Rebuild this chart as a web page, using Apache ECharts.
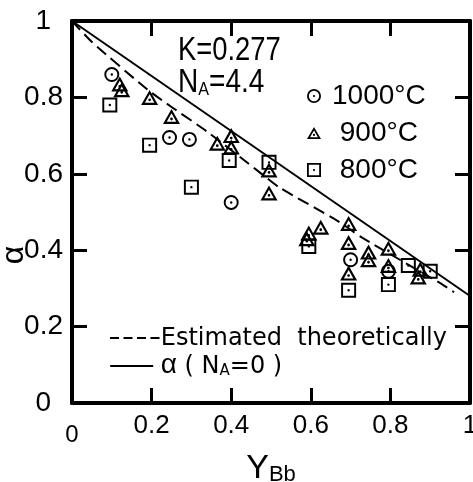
<!DOCTYPE html>
<html>
<head>
<meta charset="utf-8">
<script src="https://cdn.jsdelivr.net/npm/echarts@6/dist/echarts.min.js"></script>
<style>html,body{margin:0;background:#fff}#chart{width:473px;height:482px}</style>
</head>
<body>
<div id="chart"></div>
<script>
// measured values (x = Y_Bb, y = alpha)
var c1000 = [[0.10,0.86],[0.245,0.695],[0.295,0.69],[0.40,0.525],[0.70,0.375],[0.795,0.345]];
var c900 = [[0.12,0.835],[0.125,0.82],[0.195,0.80],[0.25,0.75],[0.365,0.68],[0.40,0.70],[0.40,0.67],
            [0.495,0.61],[0.495,0.55],[0.595,0.445],[0.59,0.43],[0.625,0.46],[0.695,0.47],[0.695,0.42],
            [0.695,0.34],[0.745,0.395],[0.745,0.375],[0.795,0.405],[0.795,0.36],[0.875,0.35],[0.87,0.33]];
var c800 = [[0.095,0.78],[0.195,0.675],[0.30,0.565],[0.395,0.635],[0.495,0.63],[0.595,0.41],
            [0.695,0.295],[0.795,0.31],[0.845,0.36],[0.90,0.345]];
var estimated = [[0,1],[0.05,0.945],[0.19,0.82],[0.25,0.775],[0.34,0.71],[0.47,0.605],[0.52,0.565],
                 [0.67,0.475],[0.73,0.432],[0.92,0.317],[0.96,0.29]];
var noAcceptor = [[0,1],[1,0.28]];
var seriesNames = ['1000°C', '900°C', '800°C'];
var lineNames = ['Estimated  theoretically', 'α (NA=0)'];

var FONT = '"Liberation Sans", Arial, sans-serif';
var WIDE = '"DejaVu Sans", sans-serif';

var circlePath = 'path://M0,-10A10,10 0 1,1 0,10A10,10 0 1,1 0,-10Z' +
    'M0,-7.4A7.4,7.4 0 1,0 0,7.4A7.4,7.4 0 1,0 0,-7.4Z' +
    'M0,-1.6A1.6,1.6 0 1,1 0,1.6A1.6,1.6 0 1,1 0,-1.6Z';
var trianglePath = 'path://M0,-9L10,8L-10,8Z' +
    'M0,-4.1L-5.6,5.5L5.6,5.5Z' +
    'M0,0.7A1.6,1.6 0 1,1 0,3.9A1.6,1.6 0 1,1 0,0.7Z';
var squarePath = 'path://M-10,-10L10,-10L10,10L-10,10Z' +
    'M-7.4,-7.4L-7.4,7.4L7.4,7.4L7.4,-7.4Z' +
    'M0,-1.6A1.6,1.6 0 1,1 0,1.6A1.6,1.6 0 1,1 0,-1.6Z';
var dashIcon = 'path://M0,0h9v2h-9zM13.5,0h9v2h-9zM27,0h9v2h-9zM40.5,0h9v2h-9z';
var solidIcon = 'path://M0,0h43v2h-43zM49,0h0.1v2h-0.1z';

var PLOT = { left: 72, right: 3, top: 21, bottom: 79 };
var TICK = 15;

function frameAxis(pos, show) {
    return {
        type: 'value', min: 0, max: 1, interval: 0.2, position: pos,
        axisLine: { show: true, onZero: false, lineStyle: { color: '#000', width: 4 } },
        axisTick: { show: true, inside: true, length: TICK, lineStyle: { color: '#000', width: 3 } },
        splitLine: { show: false },
        axisLabel: { show: show, color: '#000', fontFamily: FONT }
    };
}

// thin strips along each edge of the frame: their split lines act as the inward ticks
function tickAxis(gridIndex) {
    return {
        type: 'value', gridIndex: gridIndex, min: 0, max: 1, interval: 0.2,
        axisLine: { show: false }, axisTick: { show: false }, axisLabel: { show: false },
        splitLine: { show: true, lineStyle: { color: '#000', width: 3 } }
    };
}
function hiddenAxis(gridIndex) {
    return { type: 'value', gridIndex: gridIndex, min: 0, max: 1, show: false, splitLine: { show: false } };
}

var xBottom = frameAxis('bottom', true);
xBottom.axisLabel.fontSize = 26;
xBottom.axisLabel.margin = 10;
xBottom.axisLabel.formatter = function (v) {
    if (v === 0) return '{z|0}';
    return v === 1 ? '1' : v.toFixed(1);
};
xBottom.axisLabel.rich = { z: { fontSize: 24, fontFamily: FONT, color: '#000', padding: [10, 0, 0, 0] } };
xBottom.name = '{y|Y}{b|Bb}';
xBottom.nameLocation = 'middle';
xBottom.nameGap = 44;
xBottom.nameTextStyle = { rich: {
    y: { fontSize: 34, fontFamily: FONT, color: '#000', verticalAlign: 'bottom' },
    b: { fontSize: 22, fontFamily: FONT, color: '#000', verticalAlign: 'bottom' }
} };

var yLeft = frameAxis('left', true);
yLeft.axisLabel.fontSize = 28;
yLeft.axisLabel.margin = 9;
yLeft.axisLabel.formatter = function (v) {
    if (v === 0 || v === 1) return '{e|' + v + '}';
    return v.toFixed(1);
};
yLeft.axisLabel.rich = { e: { fontSize: 28, fontFamily: FONT, color: '#000', padding: [0, 12, 0, 0] } };

var option = {
    backgroundColor: '#fff',
    animation: false,
    grid: [
        { left: PLOT.left, right: PLOT.right, top: PLOT.top, bottom: PLOT.bottom, outerBoundsMode: 'none' },
        { left: PLOT.left, right: PLOT.right, bottom: PLOT.bottom, height: TICK, outerBoundsMode: 'none' },
        { left: PLOT.left, right: PLOT.right, top: PLOT.top, height: TICK, outerBoundsMode: 'none' },
        { left: PLOT.left, width: TICK, top: PLOT.top, bottom: PLOT.bottom, outerBoundsMode: 'none' },
        { right: PLOT.right, width: TICK, top: PLOT.top, bottom: PLOT.bottom, outerBoundsMode: 'none' }
    ],
    xAxis: [xBottom, frameAxis('top', false), tickAxis(1), tickAxis(2), hiddenAxis(3), hiddenAxis(4)],
    yAxis: [yLeft, frameAxis('right', false), hiddenAxis(1), hiddenAxis(2), tickAxis(3), tickAxis(4)],
    legend: [{
        data: seriesNames,
        orient: 'vertical', left: 302, top: 73,
        itemWidth: 14, itemHeight: 14, itemGap: 1,
        selectedMode: false,
        itemStyle: { borderWidth: 0 },
        formatter: function (n) { return n === '1000°C' ? n : ' ' + n; },
        textStyle: { fontSize: 28, fontFamily: FONT, color: '#000', lineHeight: 36, padding: [0, 0, 0, 6] }
    }, {
        data: [{ name: lineNames[0], icon: dashIcon }, { name: lineNames[1], icon: solidIcon }],
        orient: 'vertical', left: 105, top: 322,
        itemWidth: 50, itemHeight: 2, itemGap: 0,
        selectedMode: false,
        itemStyle: { color: '#000', borderWidth: 0 },
        formatter: function (n) {
            return n === lineNames[0] ? '{t|' + n + '}' : '{a|α}{t| ( N}{s|A}{t|=0 )}';
        },
        textStyle: { color: '#000', padding: [0, 0, 0, -4], rich: {
            t: { fontSize: 24, fontFamily: WIDE, color: '#000', lineHeight: 26, verticalAlign: 'bottom' },
            a: { fontSize: 28, fontFamily: FONT, color: '#000', lineHeight: 26, verticalAlign: 'bottom' },
            s: { fontSize: 15, fontFamily: WIDE, color: '#000', lineHeight: 24, verticalAlign: 'bottom' }
        } }
    }],
    graphic: [{
        type: 'text', left: 178, top: 34, scaleX: 0.83,
        style: { text: 'K=0.277', font: '33px ' + FONT, fill: '#000' }
    }, {
        type: 'text', left: 178, top: 66, scaleX: 0.85,
        style: { text: '{b|N}{s|A}{b|=4.4}', fill: '#000', rich: {
            b: { fontSize: 33, fontFamily: FONT, fill: '#000', verticalAlign: 'bottom', lineHeight: 33 },
            s: { fontSize: 19, fontFamily: FONT, fill: '#000', verticalAlign: 'bottom', lineHeight: 29 }
        } }
    }, {
        type: 'text', x: 14, y: 255, rotation: Math.PI / 2,
        style: { text: 'α', font: '32px ' + FONT, fill: '#000', align: 'center', verticalAlign: 'middle' }
    }],
    series: [{
        name: lineNames[0], type: 'line', data: estimated, symbol: 'none', smooth: 0.2,
        lineStyle: { color: '#000', width: 2, type: [12, 6] }, itemStyle: { color: '#000' }
    }, {
        name: lineNames[1], type: 'line', data: noAcceptor, symbol: 'none',
        lineStyle: { color: '#000', width: 2 }, itemStyle: { color: '#000' }
    }, {
        name: seriesNames[0], type: 'scatter', data: c1000, symbol: circlePath, symbolSize: 15,
        itemStyle: { color: '#000', opacity: 1 }
    }, {
        name: seriesNames[1], type: 'scatter', data: c900, symbol: trianglePath, symbolSize: [17, 15],
        itemStyle: { color: '#000', opacity: 1 }
    }, {
        name: seriesNames[2], type: 'scatter', data: c800, symbol: squarePath, symbolSize: 15,
        itemStyle: { color: '#000', opacity: 1 }
    }]
};

var chart = echarts.init(document.getElementById('chart'));
chart.setOption(option);
</script>
</body>
</html>
